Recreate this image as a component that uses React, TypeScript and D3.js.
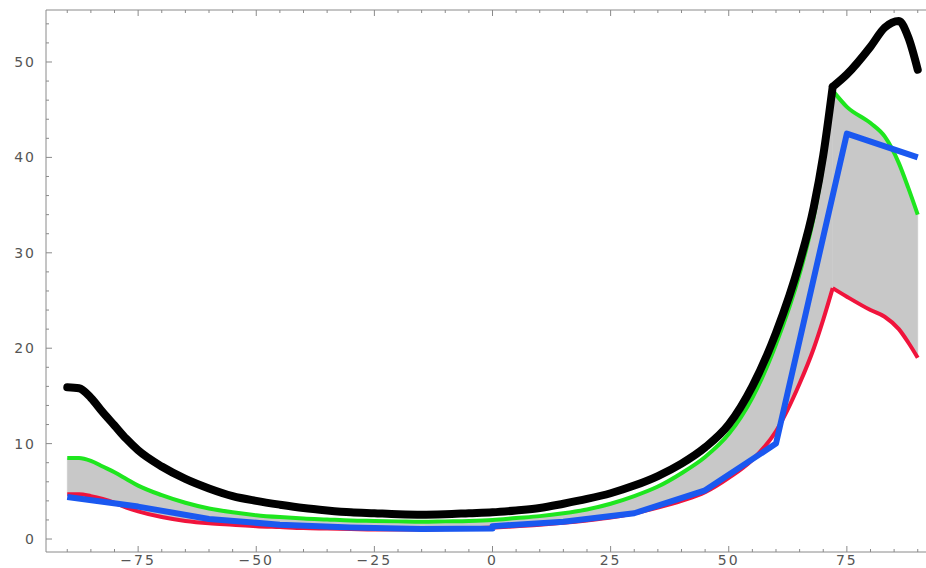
import React from "react";
import * as d3 from "d3";

const xs = [-90,-87.5,-85,-82.5,-80,-77.5,-75,-70,-65,-60,-55,-50,-45,-40,-35,-30,-25,-20,-15,-10,-5,0,5,10,15,20,25,30,35,40,45,50,55,60,65,68,70,72,75,80,83,86,88,90];
const blackVals = [15.9,15.8,14.8,13.3,11.9,10.5,9.3,7.6,6.3,5.3,4.5,4.0,3.6,3.25,3.0,2.8,2.7,2.6,2.55,2.6,2.7,2.8,3.0,3.25,3.7,4.2,4.8,5.6,6.6,7.9,9.6,12.0,16.0,21.6,29.0,34.8,40.2,47.4,48.7,51.6,53.6,54.3,52.6,49.2];
const greenVals = [8.5,8.5,8.2,7.6,7.0,6.3,5.6,4.6,3.8,3.2,2.8,2.5,2.3,2.15,2.05,1.95,1.9,1.85,1.8,1.85,1.9,2.0,2.2,2.4,2.7,3.1,3.7,4.5,5.5,6.9,8.6,11.0,14.8,20.4,27.8,33.8,39.4,47.0,45.3,43.6,42.2,39.4,36.8,34.0];
const redVals = [4.7,4.7,4.5,4.2,3.8,3.3,2.9,2.3,1.9,1.65,1.5,1.35,1.25,1.15,1.1,1.05,1.0,1.0,1.0,1.05,1.1,1.2,1.35,1.5,1.7,1.95,2.25,2.7,3.3,4.0,4.9,6.4,8.3,11.3,16.3,20.0,23.0,26.3,25.4,24.0,23.3,22.0,20.6,19.0];

const blueXs = [-90,-75,-60,-45,-30,-15,0,0,15,30,45,60,75,90];
const blueVals = [4.4,3.4,2.1,1.5,1.2,1.05,1.1,1.35,1.8,2.7,5.1,10.0,42.5,40.0];

// the smooth curves have a sharp corner here
const cornerX = 72;

const xTicks = [-75,-50,-25,0,25,50,75];
const yTicks = [0,10,20,30,40,50];

export default function App() {
  const W = 926, H = 568;
  const x = d3.scaleLinear().domain([-94.5, 94.5]).range([46, 939]);
  const y = d3.scaleLinear().domain([-1.36, 55.45]).range([552, 10]);

  const k = xs.indexOf(cornerX);
  const segments = [d3.range(0, k + 1), d3.range(k, xs.length)];

  const smooth = (vals: number[]) => {
    const ln = d3.line<number>().x(i => x(xs[i])).y(i => y(vals[i])).curve(d3.curveMonotoneX);
    return segments.map(s => ln(s) || "").join("");
  };
  const blueLine = d3.line<number>().x(i => x(blueXs[i])).y(i => y(blueVals[i]));
  const band = d3.area<number>()
    .x(i => x(xs[i]))
    .y0(i => y(redVals[i]))
    .y1(i => y(greenVals[i]))
    .curve(d3.curveMonotoneX);

  const xMinor = d3.range(-90, 91, 5);
  const yMinor = d3.range(0, 55, 2);
  const axisColor = "#8a8a8a";
  const labelStyle = { fontFamily: "DejaVu Sans, sans-serif", fontSize: 14, fill: "#555", letterSpacing: "2px" };

  return (
    <svg width={W} height={H} style={{ position: "absolute", left: 0, top: 0, background: "#fff" }}>
      {segments.map((s, j) => <path key={"band" + j} d={band(s) || ""} fill="#c8c8c8" stroke="#c8c8c8" strokeWidth={0.5} />)}
      <path d={smooth(redVals)} fill="none" stroke="#f0143c" strokeWidth={4} strokeLinejoin="round" />
      <path d={smooth(greenVals)} fill="none" stroke="#1ee61e" strokeWidth={4} strokeLinejoin="round" />
      <path d={blueLine(d3.range(blueXs.length)) || ""} fill="none" stroke="#1a58f0" strokeWidth={6} strokeLinejoin="round" />
      <path d={smooth(blackVals)} fill="none" stroke="#000" strokeWidth={8} strokeLinejoin="round" strokeLinecap="round" />

      {/* frame */}
      <line x1={46} x2={W} y1={552} y2={552} stroke={axisColor} />
      <line x1={46} x2={W} y1={10} y2={10} stroke={axisColor} />
      <line x1={46} x2={46} y1={10} y2={552} stroke={axisColor} />

      {xMinor.map(t => {
        const len = t % 25 === 0 ? 6 : 3;
        return (
          <g key={"xt" + t}>
            <line x1={x(t)} x2={x(t)} y1={552} y2={552 - len} stroke={axisColor} />
            <line x1={x(t)} x2={x(t)} y1={10} y2={10 + len} stroke={axisColor} />
          </g>
        );
      })}
      {yMinor.map(t => {
        const len = t % 10 === 0 ? 6 : 3;
        return <line key={"yt" + t} x1={46} x2={46 + len} y1={y(t)} y2={y(t)} stroke={axisColor} />;
      })}

      {xTicks.map(t => (
        <text key={"xl" + t} x={x(t)} y={565} textAnchor="middle" style={labelStyle}>
          {t < 0 ? "\u2212" + Math.abs(t) : t}
        </text>
      ))}
      {yTicks.map(t => (
        <text key={"yl" + t} x={36} y={y(t) + 5} textAnchor="end" style={labelStyle}>
          {t}
        </text>
      ))}
    </svg>
  );
}
